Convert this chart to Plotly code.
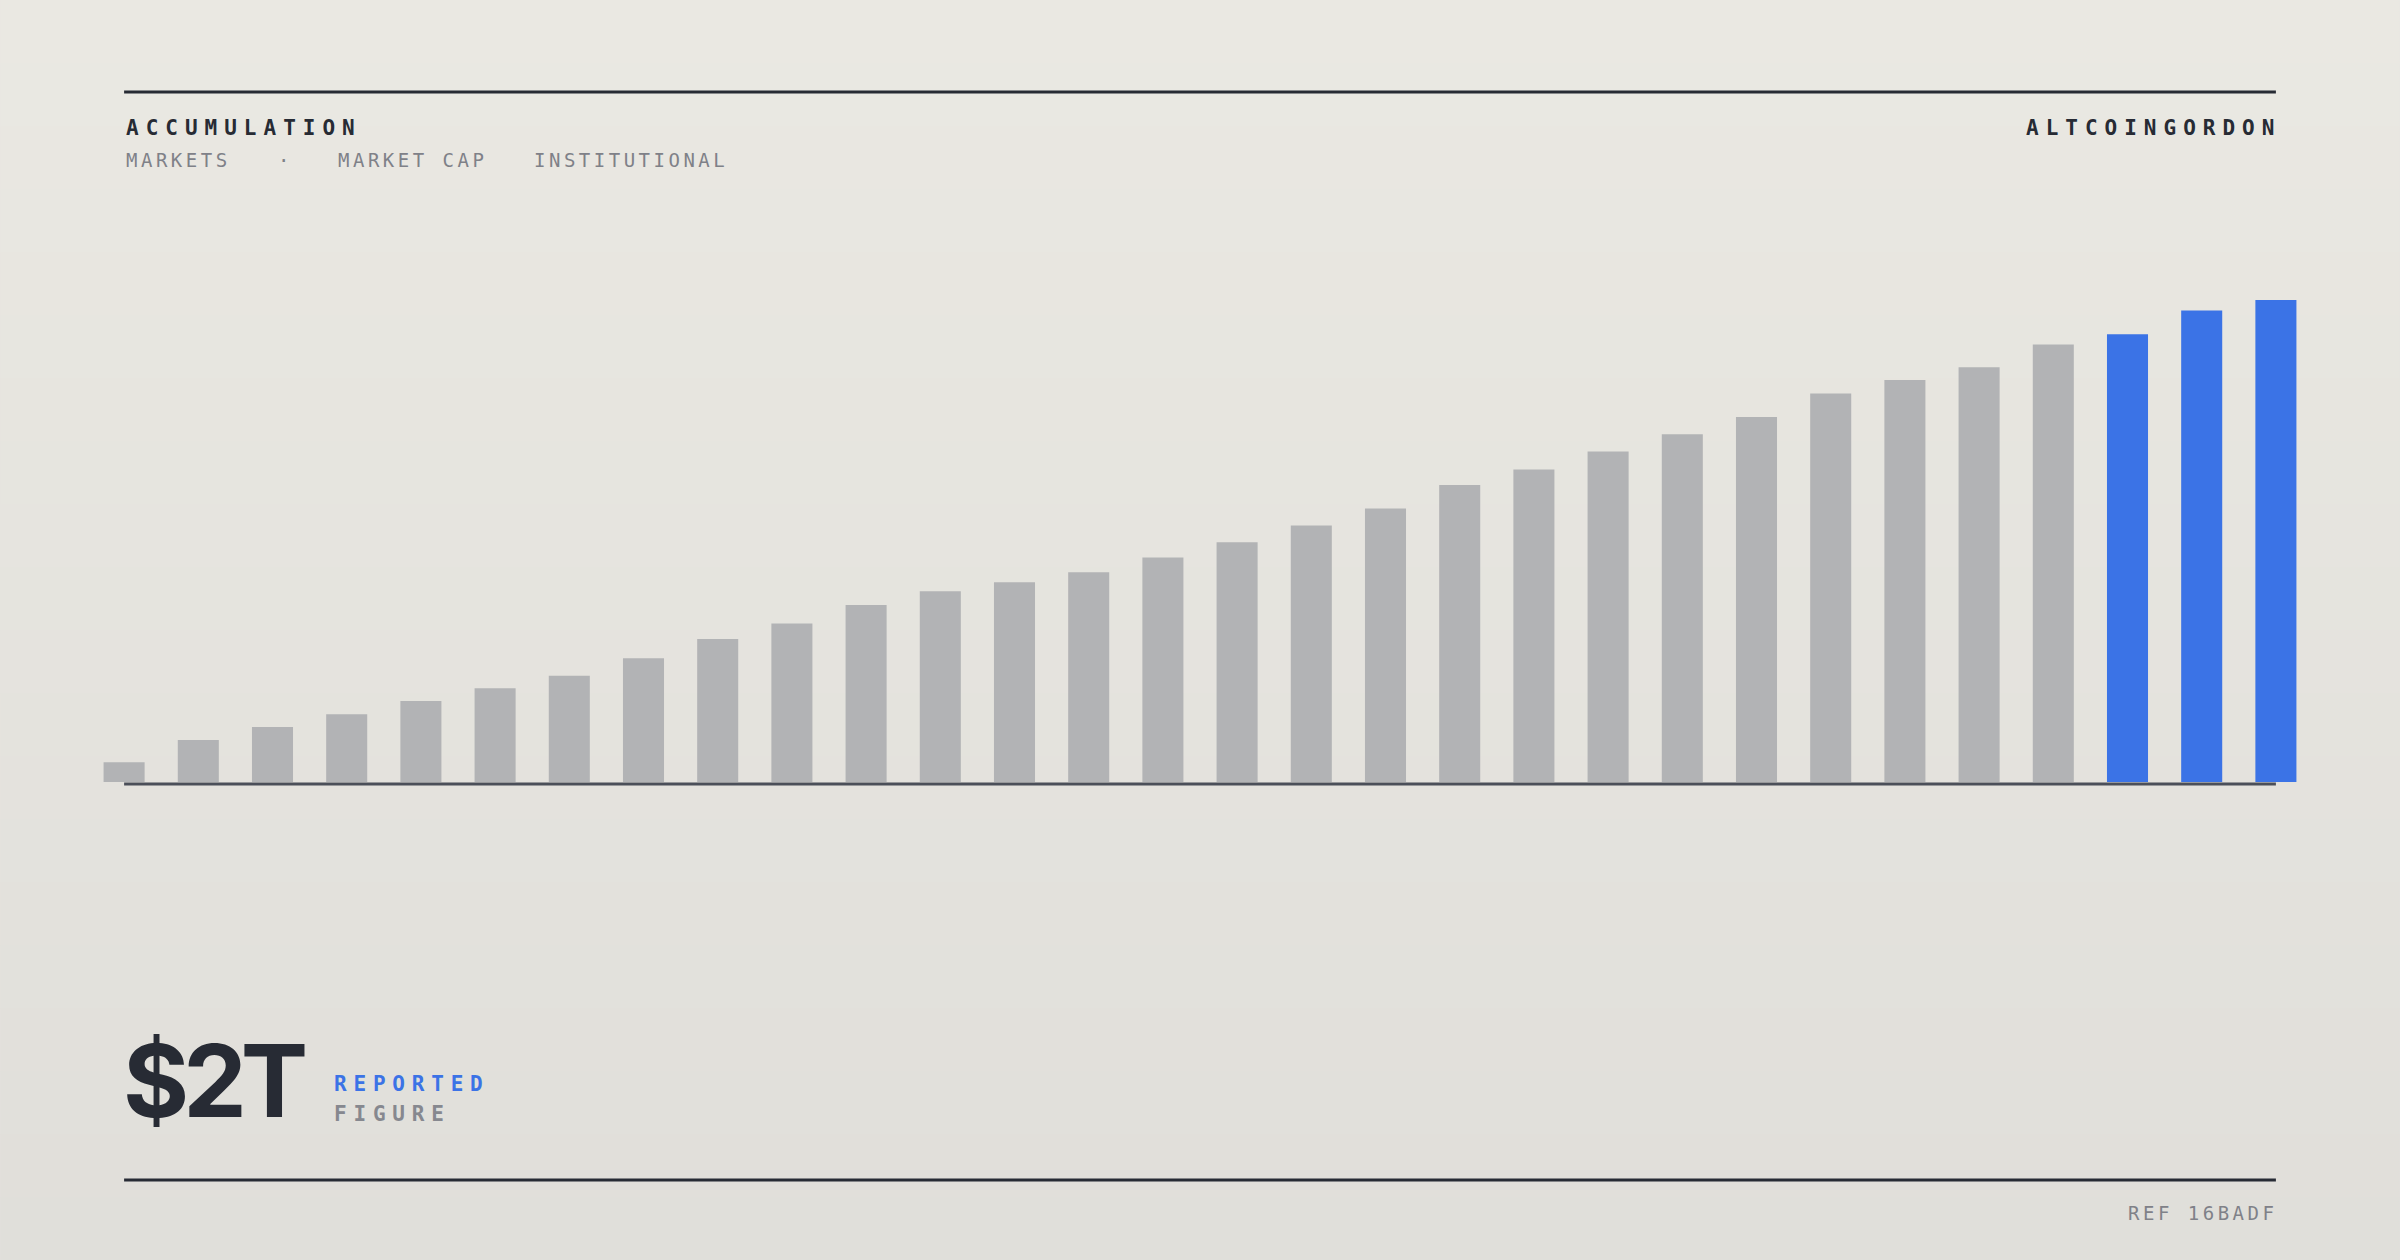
import plotly.graph_objects as go

# ---- data ----
periods = list(range(1, 31))
market_cap_t = [0.082, 0.174, 0.228, 0.281, 0.336, 0.389, 0.441, 0.513, 0.593, 0.658,
                0.734, 0.791, 0.829, 0.870, 0.932, 0.995, 1.064, 1.135, 1.232, 1.297,
                1.371, 1.443, 1.515, 1.612, 1.668, 1.721, 1.815, 1.858, 1.956, 2.000]
highlight_count = 3
title_text = "ACCUMULATION"
brand_text = "ALTCOINGORDON"
subtitle_items = ["MARKETS", "·", "MARKET CAP", "INSTITUTIONAL"]
headline_value = "$2T"
headline_label_1 = "REPORTED"
headline_label_2 = "FIGURE"
ref_text = "REF 16BADF"

# ---- style ----
W, H = 2400, 1260
RL, RR = 124, 2276          # rule extent (first / last bar centre)
n = len(market_cap_t)
step = (RR - RL) / (n - 1)
L, R = RL - step / 2, RR + step / 2
T, B = 300, 782
GRAY = "#b2b3b5"
BLUE = "#3b73e6"
DARK = "#272b34"
MUTED = "#7f8188"
MONO = "DejaVu Sans Mono"


def xp(px):
    return (px - L) / (R - L)


def yp(px):
    return (B - px) / (B - T)


colors = [GRAY] * (n - highlight_count) + [BLUE] * highlight_count

fig = go.Figure(go.Bar(
    x=list(range(n)), y=market_cap_t, marker=dict(color=colors, line=dict(width=0)),
    width=0.553, cliponaxis=False, hoverinfo="skip",
))

shapes = []
# background gradient bands
top_c = (234, 232, 226)
bot_c = (224, 223, 218)
nb = 20
for i in range(nb):
    f = i / (nb - 1)
    c = tuple(round(top_c[k] + (bot_c[k] - top_c[k]) * f) for k in range(3))
    y0 = H * i / nb
    y1 = H * (i + 1) / nb + 1
    shapes.append(dict(type="rect", xref="paper", yref="paper", layer="below",
                       x0=xp(0), x1=xp(W), y0=yp(y1), y1=yp(y0),
                       fillcolor="rgb(%d,%d,%d)" % c, line=dict(width=0)))
# rules
for yy, col in [(92, DARK), (1180, DARK), (784, "#4b4f59")]:
    shapes.append(dict(type="line", xref="paper", yref="paper", x0=xp(RL), x1=xp(RR),
                       y0=yp(yy), y1=yp(yy), line=dict(color=col, width=3)))


def spaced(t, ls):
    return '<span style="letter-spacing:%.1fpx">%s</span>' % (ls, t)


ann = []


def add(text, x, y, size, color, family=MONO, weight=400, xanchor="left", ls=0):
    ann.append(dict(text=spaced(text, ls) if ls else text, x=xp(x), y=yp(y),
                    xref="paper", yref="paper", xanchor=xanchor, yanchor="middle",
                    showarrow=False, font=dict(family=family, size=size, color=color, weight=weight)))


add(title_text, 124, 128, 21, DARK, weight=700, ls=7)
add(brand_text, 2276 + 7, 128, 21, DARK, weight=700, xanchor="right", ls=7)
sub_x = [124, 276, 336, 532]
for t, x in zip(subtitle_items, sub_x):
    add(t, x, 160, 19, MUTED, ls=3.5)
add(headline_value, 121, 1080, 101, DARK, family="Inter", weight=700, ls=-6)
add(headline_label_1, 332, 1084, 21, BLUE, weight=700, ls=6.8)
add(headline_label_2, 332, 1114, 21, "#86888f", weight=700, ls=6.8)
add(ref_text, 2276 + 3.5, 1213, 19, MUTED, xanchor="right", ls=3.5)

fig.update_layout(
    width=W, height=H, margin=dict(l=L, r=W - R, t=T, b=H - B, pad=0),
    paper_bgcolor="#e6e4df", plot_bgcolor="rgba(0,0,0,0)",
    xaxis=dict(range=[-0.5, n - 0.5], visible=False, fixedrange=True),
    yaxis=dict(range=[0, max(market_cap_t)], visible=False, fixedrange=True),
    showlegend=False, shapes=shapes, annotations=ann, bargap=0.45,
)

fig.write_html("out.html", config={"displayModeBar": False},
               post_script="document.body.style.margin='0';document.body.style.overflow='hidden';")
